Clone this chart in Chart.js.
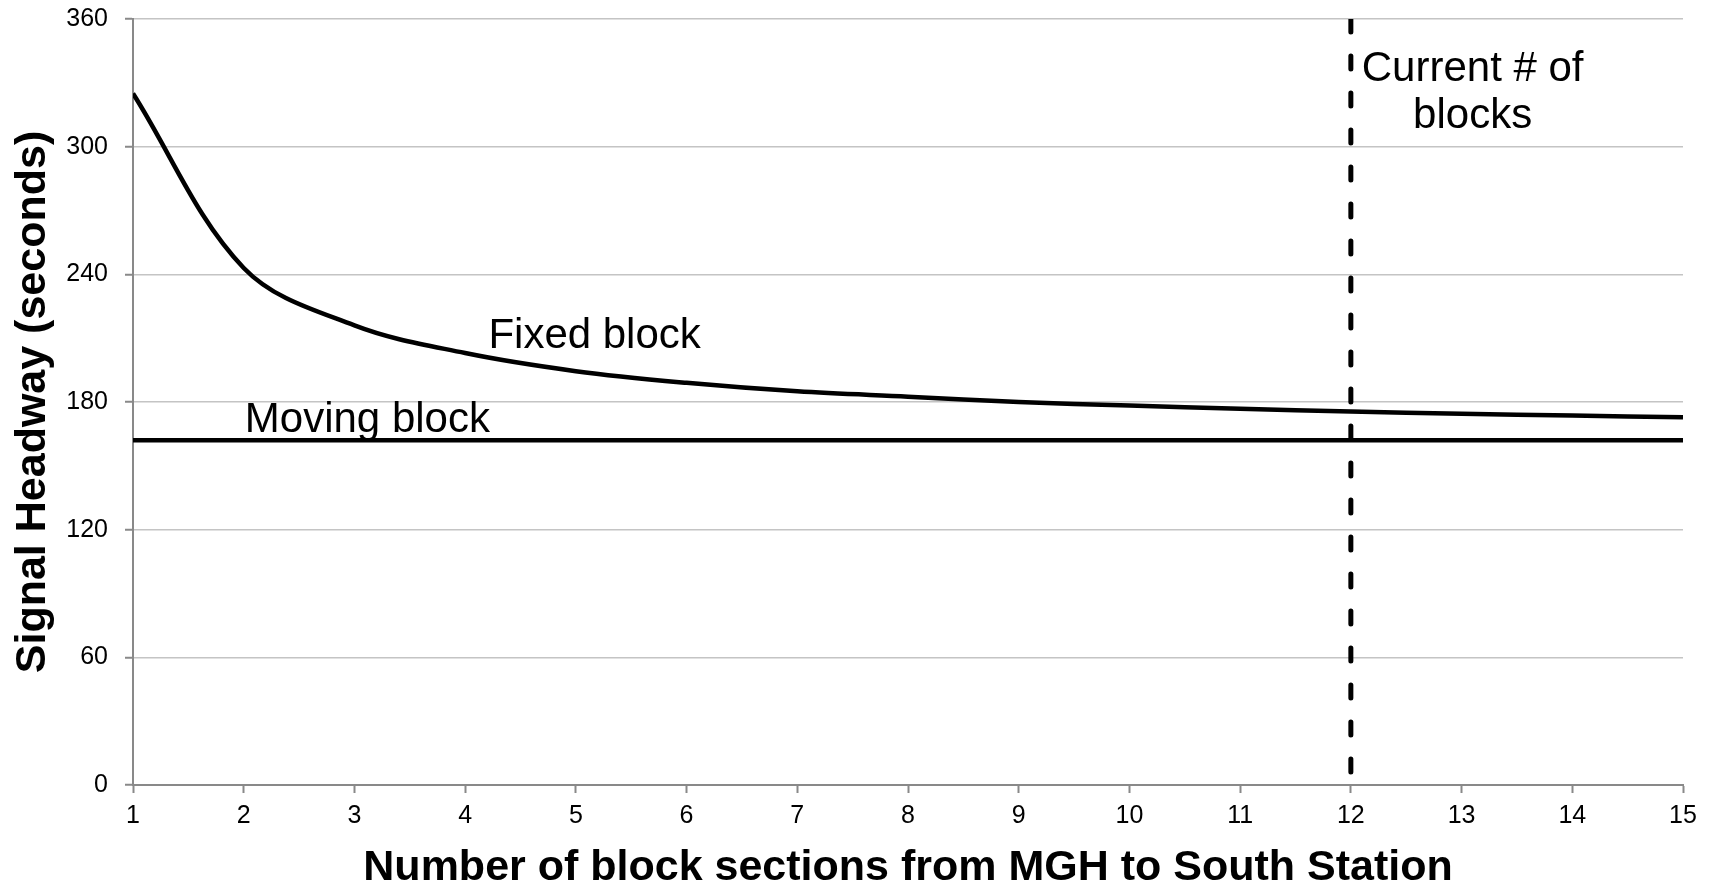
<!DOCTYPE html>
<html>
<head>
<meta charset="utf-8">
<script src="https://cdn.jsdelivr.net/npm/chart.js@4"></script>
<style>
  html, body { margin: 0; padding: 0; background: #fff; }
  #chart { display: block; }
</style>
</head>
<body>
<canvas id="chart" width="1713" height="884"></canvas>
<script>
// data
const blockCounts = [1, 2, 3, 4, 5, 6, 7, 8, 9, 10, 11, 12, 13, 14, 15];
const fixedBlock = [325, 243, 216, 203, 194.5, 189, 185, 182.5, 180, 178.3, 176.8, 175.5, 174.5, 173.6, 172.8];
const movingBlock = [162, 162, 162, 162, 162, 162, 162, 162, 162, 162, 162, 162, 162, 162, 162];
const currentBlocks = 12;
const yTicks = [0, 60, 120, 180, 240, 300, 360];

const FONT = "'Liberation Sans', Arial, sans-serif";
const AXIS_GREY = '#898989';
const GRID_GREY = '#c4c4c4';

// text labels drawn on the chart (anchored in data units)
const notes = [
    { text: 'Fixed block', x: 4.21, y: 205.4, align: 'left' },
    { text: 'Moving block', x: 2.01, y: 165.9, align: 'left' },
    { text: 'Current # of', x: 13.1, y: 331, align: 'center' },
    { text: 'blocks', x: 13.1, y: 309, align: 'center' }
];

const notesPlugin = {
    id: 'notes',
    afterDatasetsDraw(chart) {
        const ctx = chart.ctx;
        const xs = chart.scales.x;
        const ys = chart.scales.y;
        ctx.save();
        ctx.fillStyle = '#000';
        ctx.font = '42px ' + FONT;
        ctx.textBaseline = 'alphabetic';
        notes.forEach(n => {
            ctx.textAlign = n.align;
            ctx.fillText(n.text, xs.getPixelForValue(n.x), ys.getPixelForValue(n.y));
        });
        ctx.restore();
    }
};

function initChart() {
    const ctx = document.getElementById('chart');
    new Chart(ctx, {
        type: 'line',
        data: {
            datasets: [
                {
                    label: 'Fixed block',
                    data: blockCounts.map((n, i) => ({ x: n, y: fixedBlock[i] })),
                    borderColor: '#000',
                    borderWidth: 4.5,
                    tension: 0.35,
                    pointRadius: 0
                },
                {
                    label: 'Moving block',
                    data: blockCounts.map((n, i) => ({ x: n, y: movingBlock[i] })),
                    borderColor: '#000',
                    borderWidth: 4.5,
                    pointRadius: 0
                },
                {
                    label: 'Current # of blocks',
                    data: [{ x: currentBlocks, y: yTicks[yTicks.length - 1] }, { x: currentBlocks, y: yTicks[0] }],
                    borderColor: '#000',
                    borderWidth: 5,
                    borderDash: [13, 24],
                    borderCapStyle: 'round',
                    pointRadius: 0
                }
            ]
        },
        options: {
            responsive: false,
            animation: false,
            layout: {
                padding: { top: 19, right: 30, left: 0, bottom: 0 }
            },
            plugins: {
                legend: { display: false },
                tooltip: { enabled: false }
            },
            scales: {
                x: {
                    type: 'linear',
                    min: blockCounts[0],
                    max: blockCounts[blockCounts.length - 1],
                    afterFit(scale) {
                        scale.height = 99;
                        scale.paddingLeft = 0;
                        scale.paddingRight = 0;
                    },
                    ticks: {
                        stepSize: 1,
                        color: '#000',
                        font: { family: FONT, size: 25 },
                        padding: 8,
                        maxRotation: 0
                    },
                    grid: {
                        drawOnChartArea: false,
                        drawTicks: true,
                        tickLength: 8,
                        tickColor: AXIS_GREY,
                        tickWidth: 2
                    },
                    border: { color: AXIS_GREY, width: 2 },
                    title: {
                        display: true,
                        text: 'Number of block sections from MGH to South Station',
                        color: '#000',
                        font: { family: FONT, size: 43, weight: 'bold', lineHeight: 0.72 },
                        padding: { top: 0, bottom: 0 }
                    }
                },
                y: {
                    min: yTicks[0],
                    max: yTicks[yTicks.length - 1],
                    afterFit(scale) {
                        scale.width = 133;
                        scale.paddingTop = 0;
                        scale.paddingBottom = 0;
                    },
                    afterBuildTicks(scale) { scale.ticks = yTicks.map(v => ({ value: v })); },
                    ticks: {
                        color: '#000',
                        font: { family: FONT, size: 25 },
                        padding: 17
                    },
                    grid: {
                        color: GRID_GREY,
                        lineWidth: 1.5,
                        tickLength: 8,
                        tickColor: AXIS_GREY,
                        tickWidth: 2
                    },
                    border: { color: AXIS_GREY, width: 2 },
                    title: {
                        display: true,
                        text: 'Signal Headway (seconds)',
                        color: '#000',
                        font: { family: FONT, size: 43, weight: 'bold', lineHeight: 1 },
                        padding: { top: 12, bottom: 0 }
                    }
                }
            }
        },
        plugins: [notesPlugin]
    });
}

document.addEventListener('DOMContentLoaded', initChart);
</script>
</body>
</html>
